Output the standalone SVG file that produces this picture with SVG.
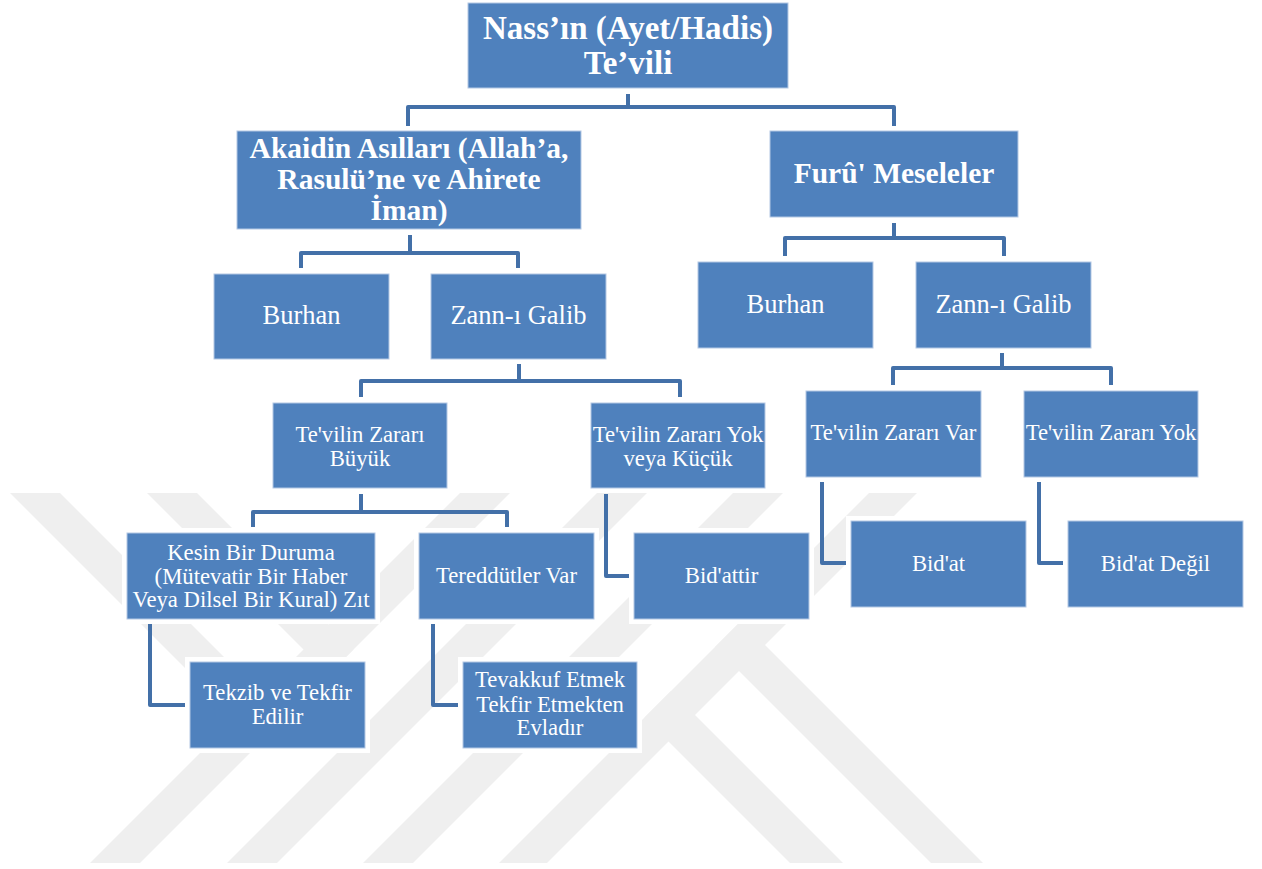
<svg xmlns="http://www.w3.org/2000/svg" width="1262" height="869" viewBox="0 0 1262 869">
<defs>
<style>
.halo{fill:#ffffff}
.box{fill:#4f81bd;stroke:#b4c8e4;stroke-width:1}
.t{font-family:"Liberation Serif","Times New Roman",serif;fill:#ffffff;text-anchor:middle}
.b{font-weight:bold}
.s33{font-size:33px}
.s29{font-size:29.5px}
.s26{font-size:26.5px}
.s22{font-size:22.7px}
.con{fill:none;stroke:#4370a8;stroke-width:4;stroke-linejoin:round;stroke-linecap:butt}
.wm{fill:#efefef}
</style>
<clipPath id="wmclip"><rect x="0" y="493" width="1262" height="370"/></clipPath>
</defs>
<rect width="1262" height="869" fill="#ffffff"/>
<g id="watermark" clip-path="url(#wmclip)">
<polygon class="wm" points="460,493 510,493 140,863 90,863"/>
<polygon class="wm" points="597,493 647,493 277,863 227,863"/>
<polygon class="wm" points="733,493 783,493 413,863 363,863"/>
<polygon class="wm" points="869,493 917,493 547,863 499,863"/>
<polygon class="wm" points="10,493 60,493 285,718 260,743"/>
<polygon class="wm" points="147,493 197,493 353.5,649.5 328.5,674.5"/>
<polygon class="wm" points="741,621 983,863 931,863 715,647"/>
<polygon class="wm" points="671,691 843,863 790,863 644.5,717.5"/>
</g>
<g id="connectors">
<path class="con" d="M628,94 V107 M408,126 V107 H894 V126"/>
<path class="con" d="M410,235 V253 M301,268 V253 H518 V268"/>
<path class="con" d="M894,223 V238 M785,256 V238 H1004 V256"/>
<path class="con" d="M519,364 V381 M361,397 V381 H680 V397"/>
<path class="con" d="M1002,353 V368 M893,385 V368 H1111 V385"/>
<path class="con" d="M361,494 V512 M253,527 V512 H507 V527"/>
<path class="con" d="M606,494 V576 H630"/>
<path class="con" d="M822,482 V563 H847"/>
<path class="con" d="M1039,482 V563 H1064"/>
<path class="con" d="M150,624 V705 H186"/>
<path class="con" d="M433,624 V705 H459"/>
</g>
<g id="n-nass">
<rect class="halo" x="463" y="0" width="330" height="93"/>
<rect class="box" x="468" y="3" width="320" height="85"/>
<text class="t b s33" x="628" y="39">Nass’ın (Ayet/Hadis)</text>
<text class="t b s33" x="628" y="74">Te’vili</text>
</g>
<g id="n-akaidin">
<rect class="halo" x="232" y="126" width="354" height="108"/>
<rect class="box" x="237" y="131" width="344" height="98"/>
<text class="t b s29" x="409" y="158">Akaidin Asılları (Allah’a,</text>
<text class="t b s29" x="409" y="189">Rasulü’ne ve Ahirete</text>
<text class="t b s29" x="409" y="220">İman)</text>
</g>
<g id="n-furu">
<rect class="halo" x="765" y="126" width="258" height="96"/>
<rect class="box" x="770" y="131" width="248" height="86"/>
<text class="t b s29" x="894" y="183">Furû' Meseleler</text>
</g>
<g id="n-burhan-l">
<rect class="halo" x="209" y="269" width="185" height="95"/>
<rect class="box" x="214" y="274" width="175" height="85"/>
<text class="t s26" x="301.5" y="324">Burhan</text>
</g>
<g id="n-zann-l">
<rect class="halo" x="426" y="269" width="185" height="95"/>
<rect class="box" x="431" y="274" width="175" height="85"/>
<text class="t s26" x="518.5" y="324">Zann-ı Galib</text>
</g>
<g id="n-burhan-r">
<rect class="halo" x="693" y="257" width="185" height="96"/>
<rect class="box" x="698" y="262" width="175" height="86"/>
<text class="t s26" x="785.5" y="313">Burhan</text>
</g>
<g id="n-zann-r">
<rect class="halo" x="911" y="257" width="185" height="96"/>
<rect class="box" x="916" y="262" width="175" height="86"/>
<text class="t s26" x="1003.5" y="313">Zann-ı Galib</text>
</g>
<g id="n-buyuk">
<rect class="halo" x="268" y="398" width="184" height="95"/>
<rect class="box" x="273" y="403" width="174" height="85"/>
<text class="t s22" x="360" y="442">Te'vilin Zararı</text>
<text class="t s22" x="360" y="466">Büyük</text>
</g>
<g id="n-yok-kucuk">
<rect class="halo" x="586" y="398" width="184" height="95"/>
<rect class="box" x="591" y="403" width="174" height="85"/>
<text class="t s22" x="678" y="442">Te'vilin Zararı Yok</text>
<text class="t s22" x="678" y="466">veya Küçük</text>
</g>
<g id="n-var">
<rect class="halo" x="801" y="386" width="185" height="96"/>
<rect class="box" x="806" y="391" width="175" height="86"/>
<text class="t s22" x="893.5" y="440">Te'vilin Zararı Var</text>
</g>
<g id="n-yok">
<rect class="halo" x="1019" y="386" width="184" height="96"/>
<rect class="box" x="1024" y="391" width="174" height="86"/>
<text class="t s22" x="1111" y="440">Te'vilin Zararı Yok</text>
</g>
<g id="n-kesin">
<rect class="halo" x="122" y="528" width="258" height="96"/>
<rect class="box" x="127" y="533" width="248" height="86"/>
<text class="t s22" x="251" y="560">Kesin Bir Duruma</text>
<text class="t s22" x="251" y="584">(Mütevatir Bir Haber</text>
<text class="t s22" x="251" y="607">Veya Dilsel Bir Kural) Zıt</text>
</g>
<g id="n-tereddut">
<rect class="halo" x="414" y="528" width="185" height="96"/>
<rect class="box" x="419" y="533" width="175" height="86"/>
<text class="t s22" x="506.5" y="583">Tereddütler Var</text>
</g>
<g id="n-bidattir">
<rect class="halo" x="629" y="528" width="185" height="96"/>
<rect class="box" x="634" y="533" width="175" height="86"/>
<text class="t s22" x="721.5" y="583">Bid'attir</text>
</g>
<g id="n-bidat">
<rect class="halo" x="846" y="516" width="185" height="96"/>
<rect class="box" x="851" y="521" width="175" height="86"/>
<text class="t s22" x="938.5" y="571">Bid'at</text>
</g>
<g id="n-bidat-degil">
<rect class="halo" x="1063" y="516" width="185" height="96"/>
<rect class="box" x="1068" y="521" width="175" height="86"/>
<text class="t s22" x="1155.5" y="571">Bid'at Değil</text>
</g>
<g id="n-tekzib">
<rect class="halo" x="185" y="657" width="185" height="96"/>
<rect class="box" x="190" y="662" width="175" height="86"/>
<text class="t s22" x="277.5" y="700">Tekzib ve Tekfir</text>
<text class="t s22" x="277.5" y="724">Edilir</text>
</g>
<g id="n-tevakkuf">
<rect class="halo" x="458" y="657" width="184" height="96"/>
<rect class="box" x="463" y="662" width="174" height="86"/>
<text class="t s22" x="550" y="687">Tevakkuf Etmek</text>
<text class="t s22" x="550" y="712">Tekfir Etmekten</text>
<text class="t s22" x="550" y="735">Evladır</text>
</g>
</svg>
